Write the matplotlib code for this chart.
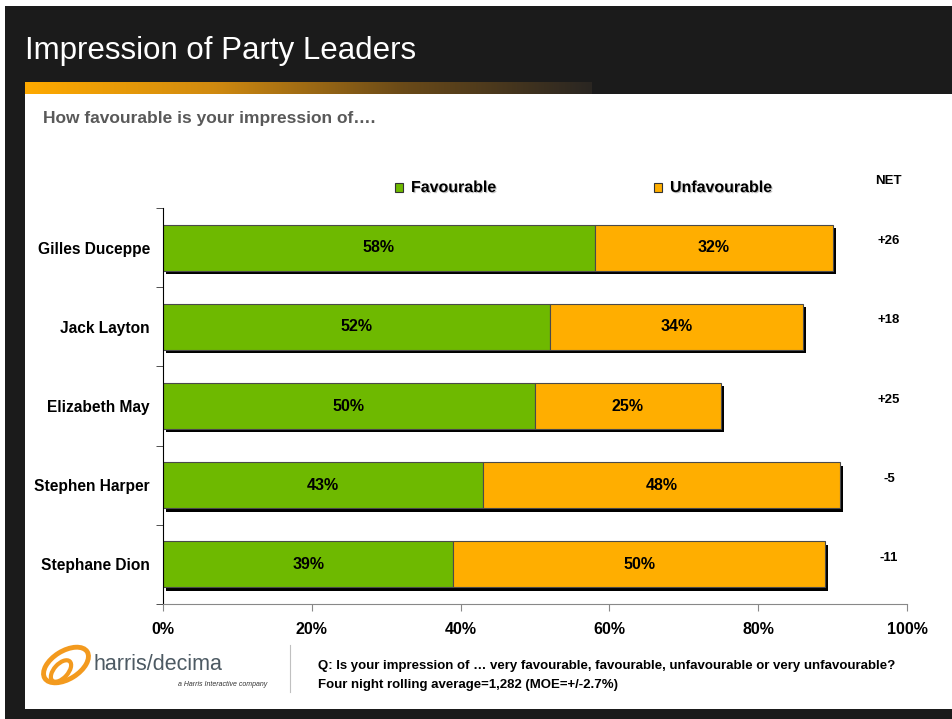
import matplotlib.pyplot as plt
import matplotlib.patheffects as pe
import matplotlib.transforms as mtransforms
import numpy as np
from matplotlib import font_manager
from matplotlib.colors import LinearSegmentedColormap
from matplotlib.lines import Line2D
from matplotlib.patches import Ellipse, Rectangle

leaders = ["Gilles Duceppe", "Jack Layton", "Elizabeth May", "Stephen Harper", "Stephane Dion"]
favourable = [58, 52, 50, 43, 39]
unfavourable = [32, 34, 25, 48, 50]
net_labels = ["+26", "+18", "+25", "-5", "-11"]
x_ticks = [0, 20, 40, 60, 80, 100]

GREEN = "#6EB900"
ORANGE = "#FFAE00"
DARK = "#1b1b1b"

installed = {f.name for f in font_manager.fontManager.ttflist}
narrow = "Liberation Sans Narrow" if "Liberation Sans Narrow" in installed else "Liberation Sans"
plt.rcParams["font.family"] = ["Liberation Sans", "DejaVu Sans"]

W, H = 953, 719


def fx(px):
    return px / W


def fy(py):
    return 1 - py / H


fig = plt.figure(figsize=(W / 100, H / 100), dpi=100)
fig.patch.set_facecolor("white")

# slide background: dark frame + white content panel
fig.add_artist(Rectangle((fx(5), 0), 1, fy(6), transform=fig.transFigure,
                         facecolor=DARK, edgecolor="none", zorder=-20))
fig.add_artist(Rectangle((fx(25), fy(709)), 1, (709 - 94) / H, transform=fig.transFigure,
                         facecolor="white", edgecolor="none", zorder=-19))

# orange gradient strip under the title
grad_ax = fig.add_axes([fx(25), fy(94), fx(592) - fx(25), 12 / H])
grad_cmap = LinearSegmentedColormap.from_list("strip", ["#FFAA00", "#D08A10", "#6a4a18", "#2a2622"])
grad_ax.imshow(np.linspace(0, 1, 256)[None, :], aspect="auto", cmap=grad_cmap)
grad_ax.set_axis_off()

fig.text(fx(25), fy(51), "Impression of Party Leaders", color="white",
         fontsize=22.5, family=[narrow, "DejaVu Sans"], va="center", ha="left")
fig.text(fx(43), fy(119), "How favourable is your impression of\u2026.", color="#595959",
         fontsize=12.5, fontweight="bold", va="center", ha="left")

# main chart
ax = fig.add_axes([fx(163), fy(604), fx(907) - fx(163), (604 - 208) / H])
ax.patch.set_visible(False)
y = np.arange(len(leaders))
shadow = [pe.SimplePatchShadow(offset=(2.4, -2.4), shadow_rgbFace="black", alpha=1.0), pe.Normal()]

fav_bars = ax.barh(y, favourable, height=0.58, color=GREEN, edgecolor="#4a4a4a",
                   linewidth=0.8, path_effects=shadow)
unf_bars = ax.barh(y, unfavourable, left=favourable, height=0.58, color=ORANGE,
                   edgecolor="#4a4a4a", linewidth=0.8, path_effects=shadow)
ax.bar_label(fav_bars, labels=[f"{v}%" for v in favourable], label_type="center",
             fontsize=11.5, fontweight="bold")
ax.bar_label(unf_bars, labels=[f"{v}%" for v in unfavourable], label_type="center",
             fontsize=11.5, fontweight="bold")

ax.set_xlim(0, 100)
ax.set_ylim(len(leaders) - 0.5, -0.5)
ax.set_xticks(x_ticks)
ax.set_xticklabels([f"{t}%" for t in x_ticks], fontsize=11.5, fontweight="bold")
ax.set_yticks(y)
ax.set_yticklabels(leaders, fontsize=11.2, fontweight="bold")
ax.set_yticks(np.arange(-0.5, len(leaders), 1), minor=True)
ax.tick_params(axis="y", which="major", length=0, pad=9.5)
ax.tick_params(axis="y", which="minor", length=5, color="#333333", direction="out")
ax.tick_params(axis="x", length=5, color="#888888", pad=8)
for side in ("top", "right"):
    ax.spines[side].set_visible(False)
ax.spines["left"].set_color("black")
ax.spines["bottom"].set_color("#888888")

# NET column
fig.text(fx(888), fy(181), "NET", fontsize=9.5, fontweight="bold", ha="center", va="center")
net_trans = mtransforms.blended_transform_factory(fig.transFigure, ax.transData)
for i, lab in enumerate(net_labels):
    ax.text(fx(889), i - 0.08, lab, transform=net_trans, fontsize=9.5, fontweight="bold",
            ha="center", va="center", clip_on=False)

# legend
txt_shadow = [pe.withSimplePatchShadow(offset=(0.8, -0.8), shadow_rgbFace="#9a9a9a", alpha=0.6)]
for x0, col, lab in [(395, GREEN, "Favourable"), (654, ORANGE, "Unfavourable")]:
    fig.add_artist(Rectangle((fx(x0), fy(192)), 8 / W, 9 / H, transform=fig.transFigure,
                             facecolor=col, edgecolor="#333333", linewidth=0.8))
    fig.text(fx(x0 + 16), fy(187.5), lab, fontsize=11.5, fontweight="bold",
             ha="left", va="center", path_effects=txt_shadow)

# footer
fig.add_artist(Line2D([fx(290), fx(290)], [fy(645), fy(692)], transform=fig.transFigure,
                      color="#c0c0c0", linewidth=0.8))
fig.text(fx(318), fy(666), "Q: Is your impression of \u2026 very favourable, favourable, "
         "unfavourable or very unfavourable?", fontsize=9.5, fontweight="bold", va="center")
fig.text(fx(318), fy(685), "Four night rolling average=1,282 (MOE=+/-2.7%)",
         fontsize=9.5, fontweight="bold", va="center")

# harris/decima logo
logo_ax = fig.add_axes([fx(36), fy(692), 62 / W, 50 / H])
logo_ax.set_xlim(0, 62)
logo_ax.set_ylim(0, 50)
logo_ax.set_axis_off()
logo_ax.add_patch(Ellipse((30, 27), 50, 28, angle=32, fill=False, edgecolor="#F39A1E", linewidth=3.5))
logo_ax.add_patch(Ellipse((25, 21), 26, 14, angle=48, fill=False, edgecolor="#F39A1E", linewidth=3))
fig.text(fx(94), fy(665), "harris/decima", fontsize=15.5, color="#4d5a63",
         family=[narrow, "DejaVu Sans"], ha="left", va="center")
fig.text(fx(267), fy(685), "a Harris Interactive company", fontsize=5, color="#333333",
         style="italic", ha="right", va="center")

fig.savefig("out.png", dpi=100)
